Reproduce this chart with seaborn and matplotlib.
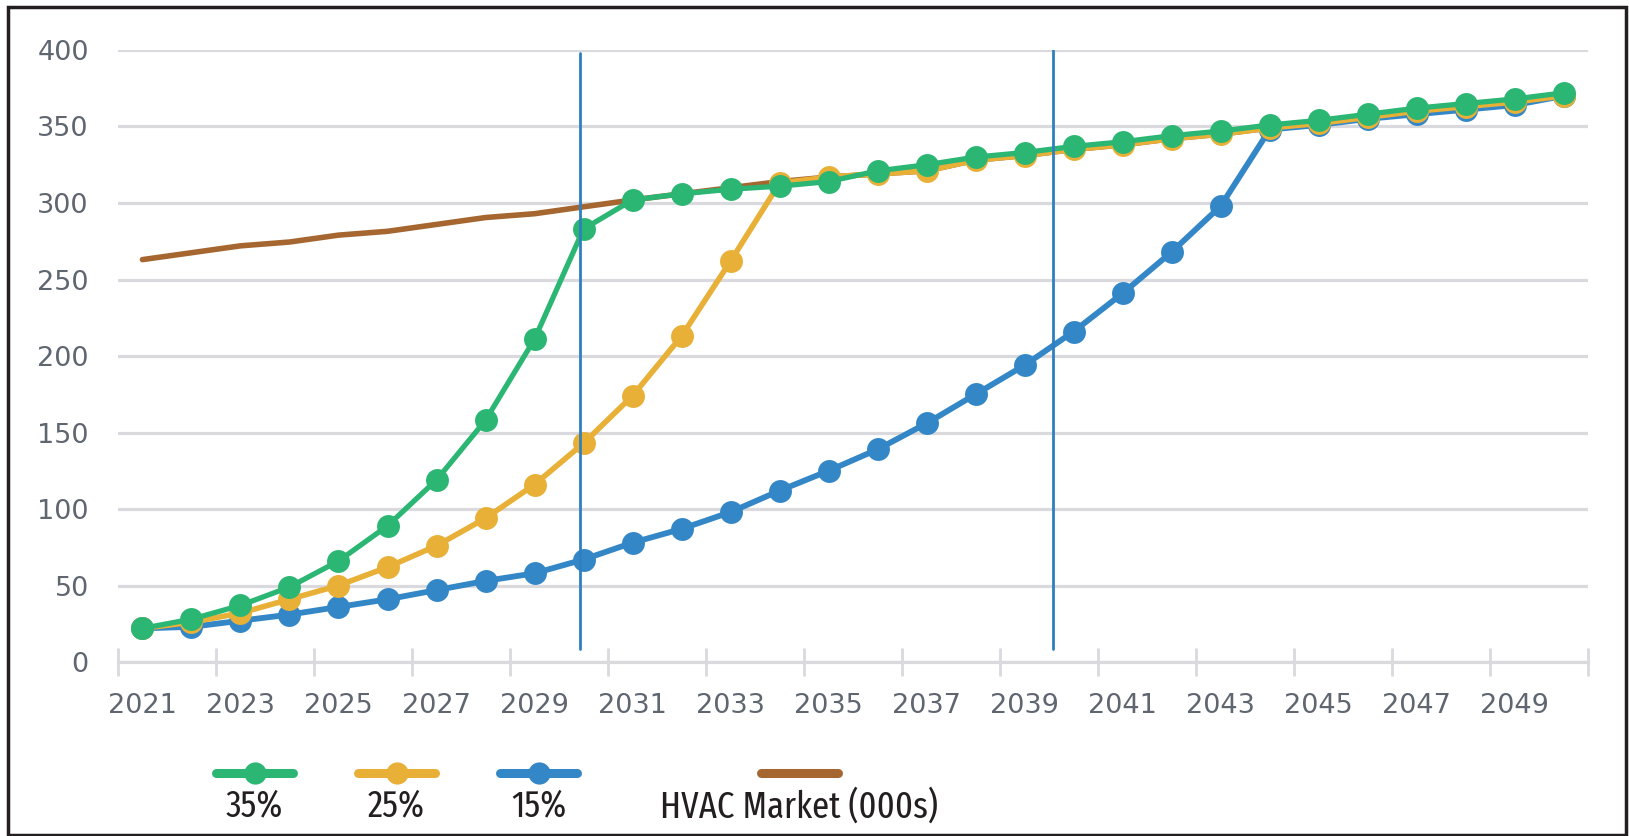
import matplotlib
matplotlib.use('Agg')
import matplotlib.pyplot as plt
from matplotlib import font_manager
from matplotlib.font_manager import FontProperties
from matplotlib.lines import Line2D
from matplotlib.offsetbox import VPacker
from matplotlib.patches import Rectangle
import seaborn as sns
import pandas as pd

# data
years = list(range(2021, 2051))
pct_35 = [22, 28, 37, 49, 66, 89, 119, 158, 211, 283,
          302, 306, 309, 311, 314, 321, 325, 330, 333, 337,
          340, 344, 347, 351, 354, 358, 362, 365, 368, 372]
pct_25 = [22, 26, 32, 41, 50, 62, 76, 94, 116, 143,
          174, 213, 262, 313, 317, 319, 321, 328, 331, 335,
          338, 342, 345, 349, 352, 356, 360, 363, 366, 370]
pct_15 = [22, 23, 27, 31, 36, 41, 47, 53, 58, 67,
          78, 87, 98, 112, 125, 139, 156, 175, 194, 216,
          241, 268, 298, 348, 351, 355, 358, 361, 364, 370]
hvac = [263, 267.5, 272, 274.5, 279, 281.5, 286, 290.5, 293, 297.5,
        302, 306, 310, 314, 317, 319, 321, 328, 331, 335,
        338, 342, 345, 349, 352, 356, 360, 363, 366, 370]
label_years = list(range(2021, 2050, 2))
y_ticks = [0, 50, 100, 150, 200, 250, 300, 350, 400]
marker_lines = [2029.93, 2039.57]
legend_labels = ['35%', '25%', '15%', 'HVAC Market (000s)']

GREEN = '#2bb673'
YELLOW = '#e8b037'
BLUE = '#3487c7'
BROWN = '#a5662f'
GRID = '#d9d9de'
TICKTXT = '#5f6670'

sns.set_theme(style='white')
plt.rcParams['font.family'] = ['DejaVu Sans']


def narrow_rank(f):
    # the legend in the original uses a very condensed face
    if f.style != 'normal' or 'Mono' in f.name or 'Serif' in f.name:
        return None
    if str(f.weight) not in ('400', 'normal', 'regular', 'book'):
        return None
    st = str(f.stretch)
    fn = f.fname.replace('-', '').replace('_', '')
    if st == 'extra-condensed' or 'ExtraCondensed' in fn:
        return 0
    if 'Narrow' in f.name:
        return 1
    if st == 'condensed' or 'Condensed' in f.name or 'Condensed' in fn:
        return 2
    if st == 'semi-condensed':
        return 3
    return None


cands = []
for f in font_manager.fontManager.ttflist:
    r = narrow_rank(f)
    if r is not None:
        cands.append((r, f.fname))
if cands:
    cands.sort()
    leg_prop = FontProperties(fname=cands[0][1], size=27)
else:
    leg_prop = FontProperties(family='Lato', size=23)

df = pd.DataFrame({'year': years, '35%': pct_35, '25%': pct_25,
                   '15%': pct_15, 'hvac': hvac})

fig = plt.figure(figsize=(16.29, 8.36), dpi=100)
ax = fig.add_axes([0.0724, 0.2081, 0.9026, 0.7321])

sns.lineplot(data=df, x='year', y='hvac', color=BROWN, lw=4.0, ax=ax, zorder=2)
sns.lineplot(data=df, x='year', y='15%', color=BLUE, lw=4.2, marker='o',
             markersize=16.5, markeredgewidth=0, ax=ax, zorder=3)
sns.lineplot(data=df, x='year', y='25%', color=YELLOW, lw=4.0, marker='o',
             markersize=16.5, markeredgewidth=0, ax=ax, zorder=4)
sns.lineplot(data=df, x='year', y='35%', color=GREEN, lw=3.8, marker='o',
             markersize=16.5, markeredgewidth=0, ax=ax, zorder=5)

ax.axvline(marker_lines[0], ymin=0.022, ymax=0.995, color='#2f7fc1', lw=2, zorder=6)
ax.axvline(marker_lines[1], ymin=0.022, ymax=1.0, color='#2f7fc1', lw=2, zorder=6)

ax.set_xlim(2020.5, 2050.5)
ax.set_ylim(0, 400)
ax.set_xlabel('')
ax.set_ylabel('')

ax.set_yticks(y_ticks)
ax.set_yticklabels([str(v) for v in y_ticks])
ax.yaxis.grid(True, color=GRID, lw=2.3)
ax.set_axisbelow(True)

ax.set_xticks(label_years)
ax.set_xticklabels([str(y) for y in label_years])
ax.set_xticks([y + 0.5 for y in label_years], minor=True)
ax.tick_params(axis='x', which='major', length=0, pad=22, labelsize=19.5, labelcolor=TICKTXT)
ax.tick_params(axis='x', which='minor', direction='in', length=7, width=2, color=GRID)
ax.tick_params(axis='y', length=0, pad=21, labelsize=19.5, labelcolor=TICKTXT)

sec = ax.secondary_xaxis('bottom')
sec.set_xticks([y - 0.5 for y in label_years] + [2050.5])
sec.set_xticklabels([])
sec.tick_params(direction='inout', length=20, width=2, color=GRID)
for s in sec.spines.values():
    s.set_visible(False)

for side in ['left', 'right', 'top']:
    ax.spines[side].set_visible(False)
ax.spines['bottom'].set_color(GRID)
ax.spines['bottom'].set_linewidth(2.3)

handles = [
    Line2D([], [], color=GREEN, lw=6.5, marker='o', markersize=16, markeredgewidth=0, solid_capstyle='round'),
    Line2D([], [], color=YELLOW, lw=6.5, marker='o', markersize=16, markeredgewidth=0, solid_capstyle='round'),
    Line2D([], [], color=BLUE, lw=6.5, marker='o', markersize=16, markeredgewidth=0, solid_capstyle='round'),
    Line2D([], [], color=BROWN, lw=6.5, solid_capstyle='round'),
]
fs = leg_prop.get_size_in_points()
leg = fig.legend(handles, legend_labels, loc='upper left',
                 bbox_to_anchor=(216 / 1629, 1 - 760 / 836),
                 ncol=4, frameon=False, borderpad=0, borderaxespad=0,
                 handlelength=77 / (fs * 100 / 72), handletextpad=0.05,
                 columnspacing=65 / (fs * 100 / 72), prop=leg_prop)
# put each label under its handle
entries = [e for col in leg._legend_handle_box.get_children() for e in col.get_children()]
for entry in entries:
    entry.__class__ = VPacker
    entry.align = 'center'
# the last entry sits a bit further right in the original
entries[-1].width = 314
for t in leg.get_texts():
    t.set_color('#231f20')

fig.patches.append(Rectangle((0.0049, 0.0012), 0.9931, 0.9904, transform=fig.transFigure,
                             fill=False, edgecolor='#231f20', lw=2.5))

fig.savefig('out.png', dpi=100)
